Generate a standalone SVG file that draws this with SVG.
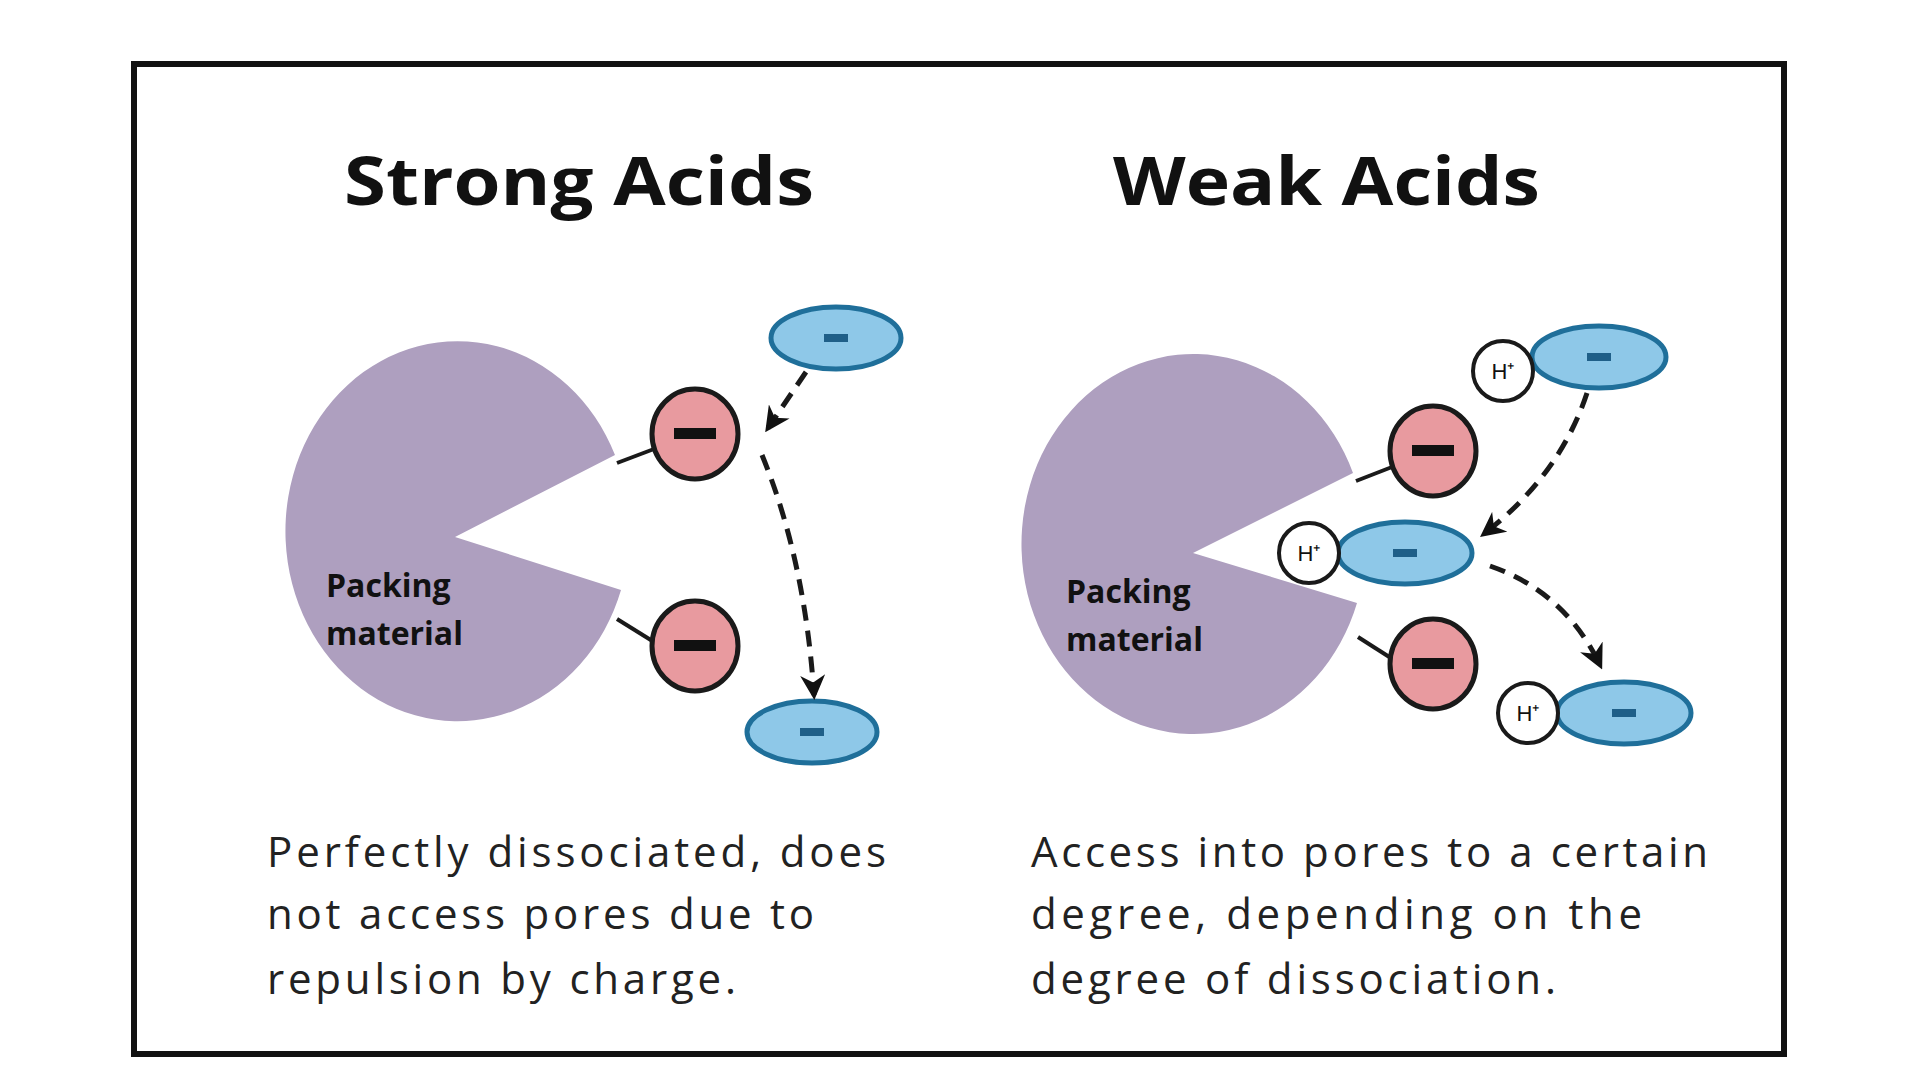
<svg xmlns="http://www.w3.org/2000/svg" width="1920" height="1080" viewBox="0 0 1920 1080">
<defs>
<style>
.pac{fill:#ae9fbf}
.red{fill:#e89a9f;stroke:#1a1a1a;stroke-width:5}
.blue{fill:#8ec8e8;stroke:#1f6f9a;stroke-width:5}
.h{fill:#fff;stroke:#1a1a1a;stroke-width:4}
.stem{stroke:#1a1a1a;stroke-width:4}
.dash{fill:none;stroke:#1a1a1a;stroke-width:5;stroke-dasharray:16 10}
.title{font-family:"Open Sans","Liberation Sans",sans-serif;font-weight:bold;font-size:66px;fill:#111}
.pm{font-family:"Open Sans","Liberation Sans",sans-serif;font-weight:bold;font-size:32px;fill:#111}
.cap{font-family:"Open Sans","Liberation Sans",sans-serif;font-size:42px;fill:#222}
.ht{font-family:"Liberation Sans",sans-serif;font-size:22px;text-anchor:middle;fill:#111}
</style>
<marker id="ah" viewBox="0 0 10 10" refX="8" refY="5" markerWidth="5" markerHeight="5" orient="auto"><path d="M0,0 L10,5 L0,10 L3,5 z" fill="#111"/></marker>
</defs>
<rect width="1920" height="1080" fill="#fff"/>
<rect x="134" y="64" width="1650" height="990" fill="none" stroke="#111" stroke-width="6"/>
<text class="title" x="344" y="205" textLength="470" lengthAdjust="spacingAndGlyphs">Strong Acids</text>
<text class="title" x="1113" y="205" textLength="427" lengthAdjust="spacingAndGlyphs">Weak Acids</text>
<g id="strong-packing">
<path class="pac" d="M615,455 A172,190 0 1 0 621,590 L455,537 Z"/>
<text class="pm" x="326" y="597">Packing</text>
<text class="pm" x="326" y="645">material</text>
</g>
<g id="strong-site1"><line class="stem" x1="617" y1="463" x2="654" y2="449"/><ellipse class="red" cx="695" cy="434" rx="43" ry="45"/><rect x="674" y="428" width="42" height="11" fill="#111"/></g>
<g id="strong-site2"><line class="stem" x1="617" y1="619" x2="654" y2="642"/><ellipse class="red" cx="695" cy="646" rx="43" ry="45"/><rect x="674" y="640" width="42" height="11" fill="#111"/></g>
<g id="strong-ion1"><ellipse class="blue" cx="836" cy="338" rx="65" ry="31"/><rect x="824" y="334" width="24" height="8" fill="#1f5f88"/></g>
<g id="strong-ion2"><ellipse class="blue" cx="812" cy="732" rx="65" ry="31"/><rect x="800" y="728" width="24" height="8" fill="#1f5f88"/></g>
<g id="weak-packing">
<path class="pac" d="M1353,473 A172,190 0 1 0 1357,603 L1193,553 Z"/>
<text class="pm" x="1066" y="603">Packing</text>
<text class="pm" x="1066" y="651">material</text>
</g>
<g id="weak-site1"><line class="stem" x1="1356" y1="481" x2="1392" y2="467"/><ellipse class="red" cx="1433" cy="451" rx="43" ry="45"/><rect x="1412" y="445" width="42" height="11" fill="#111"/></g>
<g id="weak-site2"><line class="stem" x1="1358" y1="637" x2="1394" y2="660"/><ellipse class="red" cx="1433" cy="664" rx="43" ry="45"/><rect x="1412" y="658" width="42" height="11" fill="#111"/></g>
<g id="weak-ion1"><ellipse class="blue" cx="1599" cy="357" rx="67" ry="31"/><rect x="1587" y="353" width="24" height="8" fill="#1f5f88"/><circle class="h" cx="1503" cy="371" r="30"/><text class="ht" x="1503" y="379">H⁺</text></g>
<g id="weak-ion2"><ellipse class="blue" cx="1405" cy="553" rx="67" ry="31"/><rect x="1393" y="549" width="24" height="8" fill="#1f5f88"/><circle class="h" cx="1309" cy="553" r="30"/><text class="ht" x="1309" y="561">H⁺</text></g>
<g id="weak-ion3"><ellipse class="blue" cx="1624" cy="713" rx="67" ry="31"/><rect x="1612" y="709" width="24" height="8" fill="#1f5f88"/><circle class="h" cx="1528" cy="713" r="30"/><text class="ht" x="1528" y="721">H⁺</text></g>
<g id="connectors">
<path class="dash" d="M806,372 L768,428" marker-end="url(#ah)"/>
<path class="dash" d="M762,455 Q805,560 814,695" marker-end="url(#ah)"/>
<path class="dash" d="M1587,393 Q1560,475 1484,534" marker-end="url(#ah)"/>
<path class="dash" d="M1490,566 Q1565,592 1600,665" marker-end="url(#ah)"/>
</g>
<g id="captions">
<text class="cap" x="267" y="867" textLength="619">Perfectly dissociated, does</text>
<text class="cap" x="267" y="929" textLength="547">not access pores due to</text>
<text class="cap" x="267" y="994" textLength="469">repulsion by charge.</text>
<text class="cap" x="1031" y="867" textLength="677">Access into pores to a certain</text>
<text class="cap" x="1031" y="929" textLength="611">degree, depending on the</text>
<text class="cap" x="1031" y="994" textLength="525">degree of dissociation.</text>
</g>
</svg>
